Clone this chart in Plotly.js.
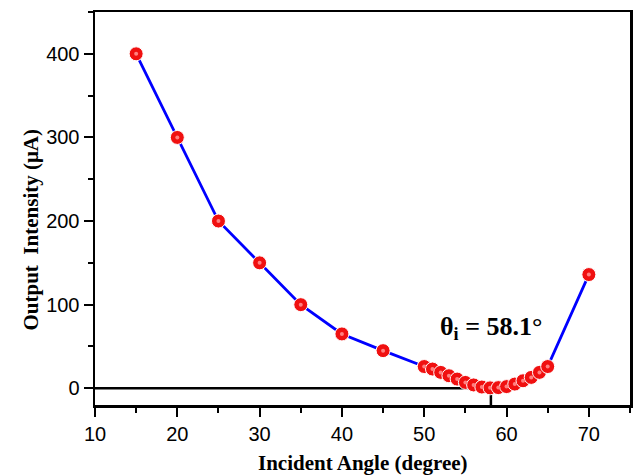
<!DOCTYPE html>
<html>
<head>
<meta charset="utf-8">
<script src="https://cdn.plot.ly/plotly-3.0.1.min.js"></script>
<style>
  html, body { margin: 0; padding: 0; background: #fff; }
  #chart { width: 633px; height: 476px; }
</style>
</head>
<body>
<div id="chart"></div>
<script>
// Incident angle (degree)
const angle = [15, 20, 25, 30, 35, 40, 45,
  50, 51, 52, 53, 54, 55, 56, 57, 58, 59, 60, 61, 62, 63, 64, 65,
  70];
// Output intensity (µA)
const intensity = [400, 300, 200, 150, 100, 65, 45,
  26, 23, 19, 15, 11, 7, 4, 1.5, 0.5, 0.8, 2, 5, 9, 13, 19, 26,
  136];

// Resonance angle guide: baseline at zero up to the angle, then a drop to the axis
const guideX = [10, 58.1, 58.1];
const guideY = [0, 0, -20];
const resonanceAngle = 58.1;
const resonanceLabelY = 72;

const serif = 'Liberation Serif, Times New Roman, serif';
const sans = 'Liberation Sans, Arial, sans-serif';

const traces = [
  {
    x: guideX, y: guideY, mode: 'lines', hoverinfo: 'skip',
    line: { color: '#000', width: 2.5 }
  },
  {
    x: angle, y: intensity, mode: 'lines', hoverinfo: 'skip',
    line: { color: '#0000ff', width: 2.8 }
  },
  {
    x: angle, y: intensity, mode: 'markers',
    marker: { size: 14, color: '#f01010', line: { color: '#ffffff', width: 1 } }
  },
  {
    // specular highlight on each sphere
    x: angle, y: intensity, mode: 'markers', hoverinfo: 'skip',
    marker: { size: 4, color: '#ff8080', line: { width: 0 } }
  }
];

const layout = {
  width: 633, height: 476,
  margin: { l: 95, r: 3, t: 12, b: 71 },
  paper_bgcolor: '#fff', plot_bgcolor: '#fff',
  showlegend: false,
  font: { family: sans, color: '#000' },
  xaxis: {
    range: [10, 75], tickvals: [10, 20, 30, 40, 50, 60, 70],
    showline: true, linecolor: '#000', linewidth: 2.5, mirror: true,
    ticks: 'outside', ticklen: 9, tickwidth: 2, tickcolor: '#000',
    minor: { dtick: 5, ticks: 'outside', ticklen: 5, tickwidth: 2, tickcolor: '#000', showgrid: false },
    showgrid: false, zeroline: false,
    tickfont: { family: sans, size: 20, color: '#000' }
  },
  yaxis: {
    range: [-20, 450], tickvals: [0, 100, 200, 300, 400],
    showline: true, linecolor: '#000', linewidth: 2.5, mirror: true,
    ticks: 'outside', ticklen: 9, tickwidth: 2, tickcolor: '#000',
    minor: { dtick: 50, tick0: 0, ticks: 'outside', ticklen: 5, tickwidth: 2, tickcolor: '#000', showgrid: false },
    showgrid: false, zeroline: false,
    tickfont: { family: sans, size: 20, color: '#000' }
  },
  annotations: [
    {
      text: '<b>Incident Angle (degree)</b>', xref: 'paper', yref: 'paper',
      x: 0.5, y: 0, xanchor: 'center', yanchor: 'middle', yshift: -58,
      showarrow: false, font: { family: serif, size: 21, color: '#000' }
    },
    {
      text: '<b>Output  Intensity (\u03bcA)</b>', xref: 'paper', yref: 'paper',
      x: 0, y: 0.5, xanchor: 'center', yanchor: 'middle', xshift: -65, yshift: -21,
      textangle: -90,
      showarrow: false, font: { family: serif, size: 21, color: '#000' }
    },
    {
      text: '<b>\u03b8<sub>i</sub> = ' + resonanceAngle + '\u00b0</b>', xref: 'x', yref: 'y',
      x: resonanceAngle, y: resonanceLabelY, xanchor: 'center', yanchor: 'middle',
      showarrow: false, font: { family: serif, size: 26, color: '#000' }
    }
  ]
};

Plotly.newPlot('chart', traces, layout, { displayModeBar: false, staticPlot: true });
</script>
</body>
</html>
